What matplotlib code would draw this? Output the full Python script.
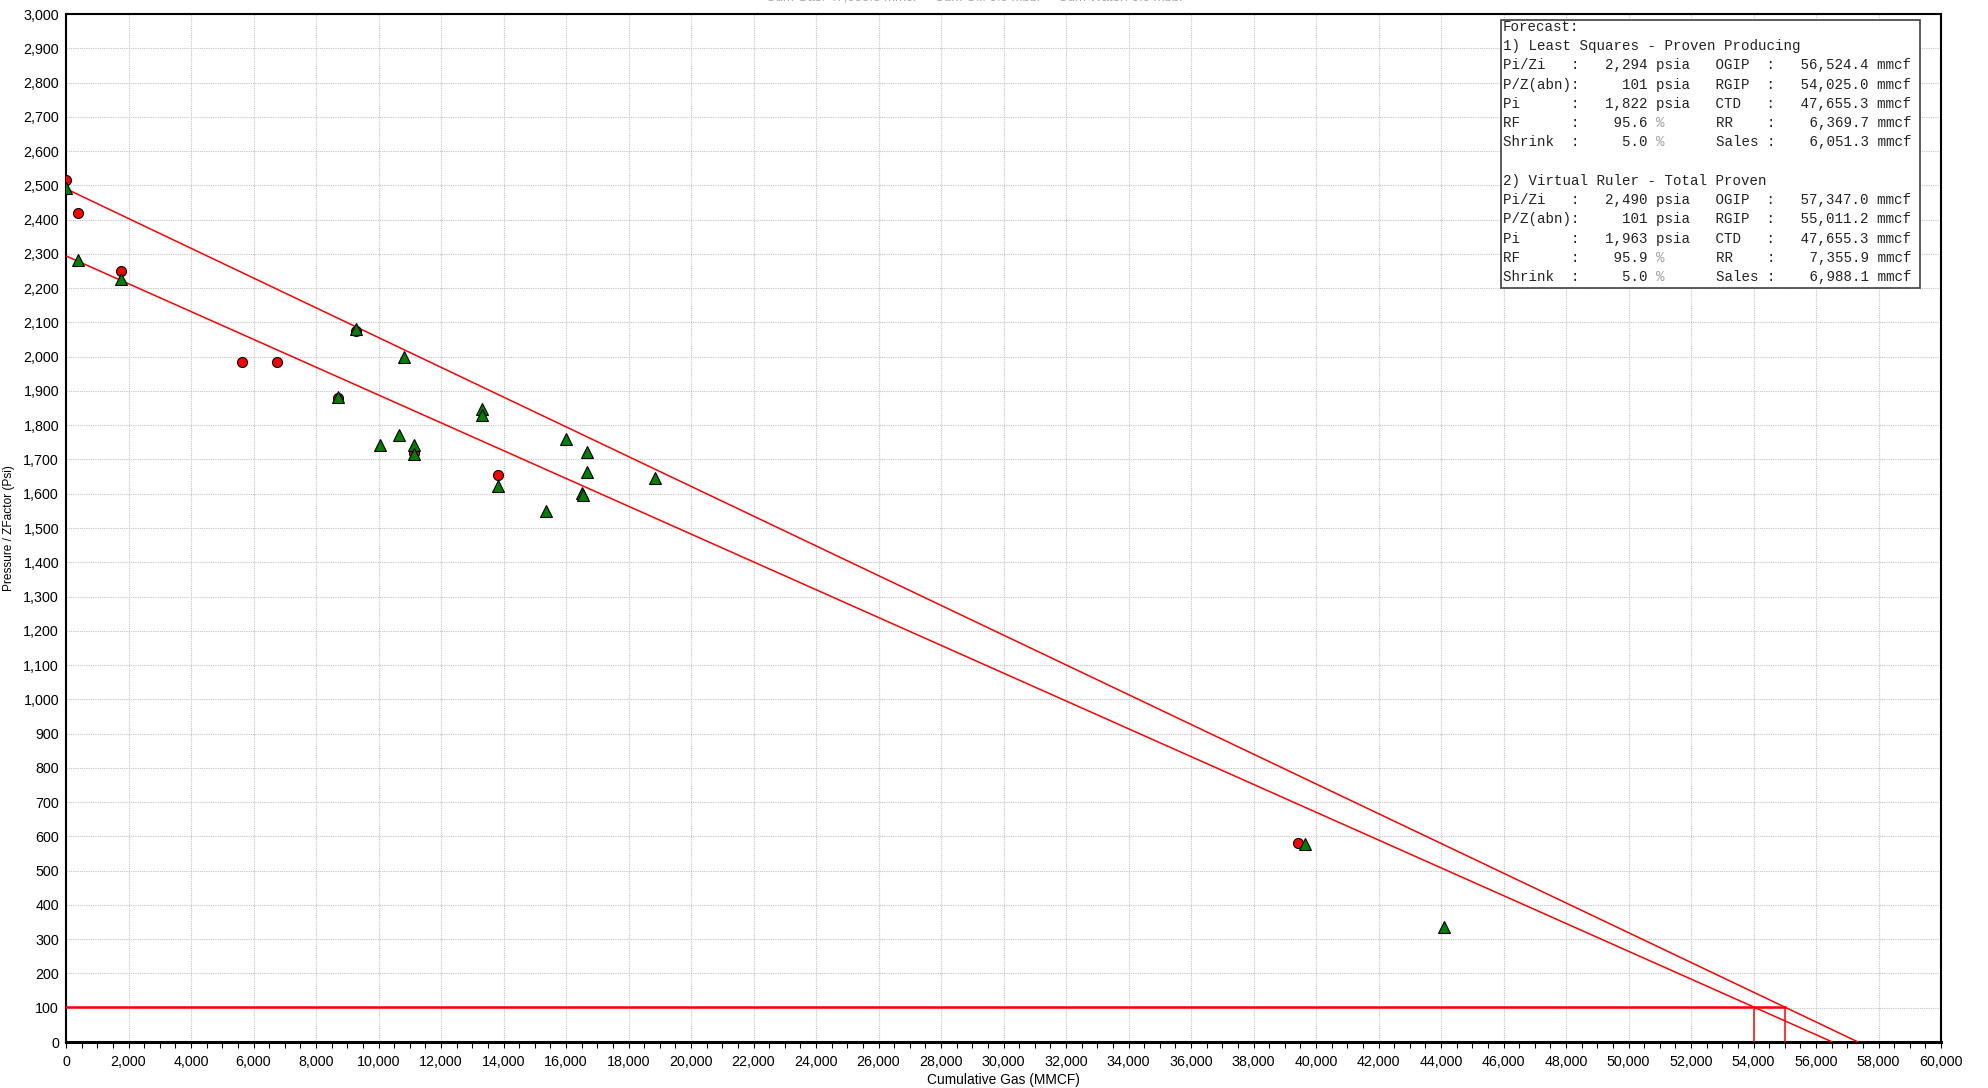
import matplotlib
matplotlib.use('Agg')
import matplotlib.pyplot as plt
from matplotlib.ticker import MultipleLocator, FuncFormatter

# measured p/z points (red circles)
circle_cum = [0, 370, 1770, 5630, 6740, 9290, 8690, 11140, 13830, 39420]
circle_pz = [2515, 2419, 2249, 1983, 1983, 2076, 1880, 1718, 1656, 580]

# corrected p/z points (green triangles)
tri_cum = [0, 370, 1770, 9290, 8690, 10810, 10060, 10660, 11140, 11140,
           13310, 13310, 13830, 15370, 15990, 16660, 16660, 16510, 16540,
           18860, 39650, 44090]
tri_pz = [2493, 2283, 2227, 2080, 1883, 2000, 1741, 1770, 1742, 1715,
          1846, 1829, 1624, 1549, 1759, 1722, 1664, 1602, 1596,
          1646, 578, 336]

# forecasts: (name, Pi/Zi, P/Z abn, Pi, RF, shrink, OGIP, RGIP, CTD, RR, sales)
forecasts = [
    ("1) Least Squares - Proven Producing", 2294, 101, 1822, 95.6, 5.0,
     56524.4, 54025.0, 47655.3, 6369.7, 6051.3),
    ("2) Virtual Ruler - Total Proven", 2490, 101, 1963, 95.9, 5.0,
     57347.0, 55011.2, 47655.3, 7355.9, 6988.1),
]
pz_abn = 101

W, H = 1988, 1088
fig = plt.figure(figsize=(W / 100, H / 100), dpi=100)
ax = fig.add_axes([66 / W, (H - 1042) / H, (1941 - 66) / W, (1042 - 14) / H])

ax.set_xlim(0, 60000)
ax.set_ylim(0, 3000)
ax.xaxis.set_major_locator(MultipleLocator(2000))
ax.xaxis.set_minor_locator(MultipleLocator(500))
ax.yaxis.set_major_locator(MultipleLocator(100))
fmt = FuncFormatter(lambda v, p: f"{v:,.0f}")
ax.xaxis.set_major_formatter(fmt)
ax.yaxis.set_major_formatter(fmt)
ax.grid(True, which='major', color='#c4c4c4', linestyle=(0, (1, 1)), linewidth=0.8)
ax.set_axisbelow(True)

for lab in ax.get_xticklabels() + ax.get_yticklabels():
    lab.set_fontfamily('Liberation Sans')
    lab.set_fontsize(10.3)
ax.tick_params(axis='y', length=0, pad=5)
ax.tick_params(axis='x', which='both', length=4, width=0.8, pad=5, color='black')

for s in ['left', 'right', 'top']:
    ax.spines[s].set_linewidth(1.5)
ax.spines['bottom'].set_linewidth(2.2)

ax.set_xlabel('Cumulative Gas (MMCF)', fontfamily='Liberation Sans', fontsize=9.9, labelpad=3)
ax.set_ylabel('Pressure / ZFactor (Psi)', fontfamily='Liberation Sans', fontsize=8.6, labelpad=6)

# forecast lines
for f in forecasts:
    pizi, ogip, rgip = f[1], f[6], f[7]
    ax.plot([0, ogip], [pizi, 0], color='#ff0000', linewidth=1.1, zorder=3)
    ax.plot([rgip, rgip], [0, pz_abn], color='#ff0000', linewidth=1.1, zorder=3)
ax.plot([0, max(f[7] for f in forecasts)], [pz_abn, pz_abn], color='#ff0000', linewidth=1.8, zorder=3)

ax.plot(circle_cum, circle_pz, 'o', color='#ff0000', markeredgecolor='black',
        markeredgewidth=0.8, markersize=7.2, zorder=4)
ax.plot(tri_cum, tri_pz, '^', color='#008000', markeredgecolor='black',
        markeredgewidth=0.8, markersize=8, zorder=5)

# forecast box
box_l, box_t, box_r, box_b = 1501, 20, 1920, 288
fig.patches.append(plt.Rectangle((box_l / W, 1 - box_b / H), (box_r - box_l) / W, (box_b - box_t) / H,
                                 transform=fig.transFigure, facecolor='white',
                                 edgecolor='#404040', linewidth=1.2, zorder=10))
lines = ["Forecast:"]
for i, f in enumerate(forecasts):
    name, pizi, abn, pi, rf, shrink, ogip, rgip, ctd, rr, sales = f
    if i > 0:
        lines.append("")
    lines.append(name)
    rows = [("Pi/Zi", f"{pizi:,}", "psia", "OGIP", ogip),
            ("P/Z(abn)", f"{abn:,}", "psia", "RGIP", rgip),
            ("Pi", f"{pi:,}", "psia", "CTD", ctd),
            ("RF", f"{rf:.1f}", "%", "RR", rr),
            ("Shrink", f"{shrink:.1f}", "%", "Sales", sales)]
    for a, v, u, b, v2 in rows:
        lines.append(f"{a:<8}:   {v:>5} {u:<4}   {b:<6}:   {v2:>8,.1f} mmcf")

char_w = 8.5
mono = dict(family='Liberation Mono', fontsize=10.2, va='center', ha='left', zorder=11)


def put(col, y, s, color):
    # place a piece of a monospace line starting at character column col
    s2 = s.lstrip()
    col += len(s) - len(s2)
    s2 = s2.rstrip()
    if s2:
        fig.text((1503 + col * char_w) / W, 1 - y / H, s2, color=color, **mono)


for i, ln in enumerate(lines):
    y = 26.7 + i * 19.27
    if '%' in ln:
        k = ln.index('%')
        put(0, y, ln[:k], '#222222')
        put(k, y, '%', '#a0a0a0')
        put(k + 1, y, ln[k + 1:], '#222222')
    else:
        put(0, y, ln, '#222222')

# clipped header text at the very top
fig.text(974 / W, 1 + 2 / H, "Cum Gas: 47,655.3 mmcf     Cum Oil: 0.0 mbbl     Cum Water: 0.0 mbbl",
         family='Liberation Sans', fontsize=9.5, color='#a8a8a8', ha='center', va='center')

fig.savefig('out.png', dpi=100)
